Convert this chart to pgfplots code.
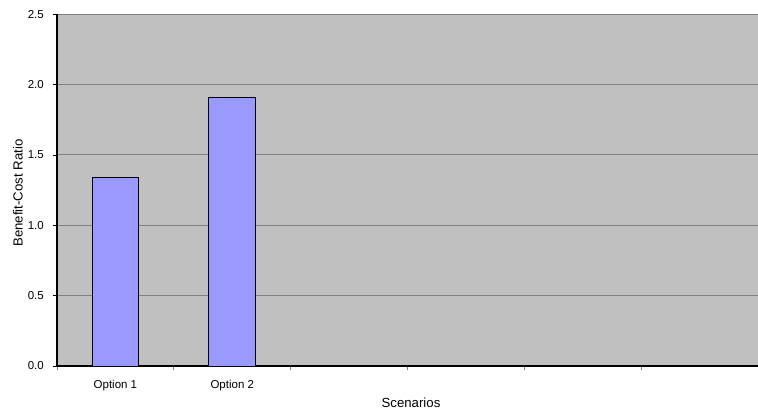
\documentclass[border=0pt]{standalone}
\usepackage{pgfplots}
\pgfplotsset{compat=1.18}
\usepackage{fontspec}
\setmainfont{Liberation Sans}
\definecolor{plotbg}{HTML}{C0C0C0}
\definecolor{barfill}{HTML}{9999FF}
\definecolor{gridgray}{HTML}{808080}
\begin{document}
\begin{tikzpicture}
\path[use as bounding box] (0,0) rectangle (758bp,410bp);
\begin{axis}[
  at={(57bp,44bp)}, anchor=south west,
  scale only axis,
  width=701bp, height=351.7bp,
  font=\fontsize{11.5bp}{13bp}\selectfont,
  /pgf/number format/assume math mode=true,
  /pgf/number format/fixed,
  /pgf/number format/fixed zerofill,
  /pgf/number format/precision=1,
  xmin=-0.5, xmax=5.5,
  ymin=0, ymax=2.5,
  ytick={0,0.5,1,1.5,2,2.5},
  yticklabel style={anchor=east, inner sep=0pt, xshift=-9bp},
  xtick={0,1},
  xticklabels={Option 1, Option 2},
  xticklabel style={anchor=base, inner sep=0pt, yshift=-18bp},
  minor xtick={-0.5,0.5,1.5,2.5,3.5,4.5,5.5},
  tick align=outside,
  major x tick style={draw=none},
  minor x tick style={gridgray, line width=0.8bp},
  minor tick length=4bp,
  major y tick style={black, line width=0.8bp},
  major tick length=4bp,
  axis x line*=bottom, axis y line*=left,
  axis line style={black, line width=1.2bp, -},
  ymajorgrids,
  major grid style={gridgray, line width=1bp},
  axis background/.style={fill=plotbg},
  xlabel={Scenarios},
  every axis x label/.style={at={(axis description cs:0.505,-0.104)}, anchor=center,
    font=\fontsize{13.2bp}{15bp}\selectfont},
  ylabel={Benefit-Cost Ratio},
  every axis y label/.style={at={(axis description cs:-0.0556,0.492)}, anchor=center,
    rotate=90, font=\fontsize{13.2bp}{15bp}\selectfont},
  clip=false,
]
\addplot[ybar, bar width=46.7bp, fill=barfill, draw=black, line width=1bp]
  coordinates {(0,1.34) (1,1.91)};
\end{axis}
\end{tikzpicture}
\end{document}
